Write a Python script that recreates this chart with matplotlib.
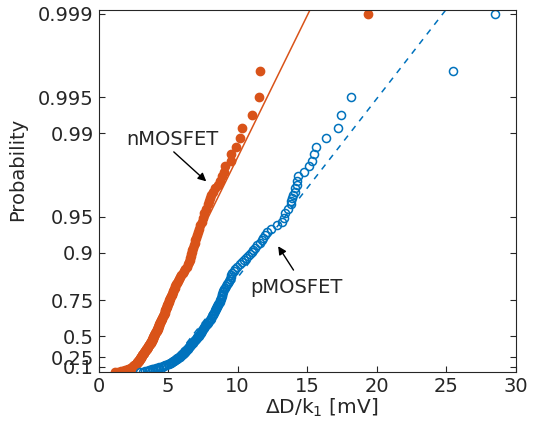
import numpy as np
import matplotlib.pyplot as plt
from matplotlib.ticker import NullLocator

# cumulative probability (plotting positions of the 500-device sample),
# dense in the lower part where the markers merge into a band
prob = [0.999, 0.997, 0.995, 0.993, 0.991, 0.989, 0.987, 0.985, 0.983, 0.981,
        0.979, 0.977, 0.975, 0.973, 0.971, 0.969, 0.967, 0.965, 0.963, 0.961,
        0.957, 0.953, 0.949, 0.945, 0.941, 0.937, 0.933, 0.929, 0.925, 0.921,
        0.917, 0.913, 0.909, 0.905, 0.901, 0.897, 0.893, 0.889, 0.885, 0.881,
        0.875, 0.869, 0.863, 0.857, 0.851, 0.845, 0.839, 0.833, 0.827, 0.821,
        0.815, 0.809, 0.803, 0.797, 0.791, 0.785, 0.779, 0.773, 0.767, 0.761,
        0.755, 0.749, 0.743, 0.737, 0.731, 0.725, 0.719, 0.713, 0.707, 0.701,
        0.697, 0.689, 0.681, 0.673, 0.665, 0.657, 0.649, 0.641, 0.633, 0.625,
        0.617, 0.609, 0.601, 0.593, 0.585, 0.577, 0.569, 0.561, 0.553, 0.545,
        0.537, 0.529, 0.521, 0.513, 0.505, 0.497, 0.489, 0.481, 0.473, 0.465,
        0.457, 0.449, 0.441, 0.433, 0.425, 0.417, 0.409, 0.401, 0.393, 0.385,
        0.377, 0.369, 0.361, 0.353, 0.345, 0.337, 0.329, 0.321, 0.313, 0.305,
        0.297, 0.289, 0.281, 0.273, 0.265, 0.257, 0.249, 0.241, 0.233, 0.225,
        0.217, 0.209, 0.201, 0.193, 0.185, 0.177, 0.169, 0.161, 0.153, 0.145,
        0.137, 0.129, 0.121, 0.113, 0.105, 0.097, 0.089, 0.081, 0.073, 0.065,
        0.057, 0.049, 0.041, 0.033, 0.025, 0.017, 0.009, 0.001]

# nMOSFET  dD/k1 [mV]
nmos_dd = [19.38, 11.6, 11.5, 11.05, 10.3, 10.2, 9.9, 9.55, 9.5, 9.1,
           9.0, 8.85, 8.7, 8.55, 8.4, 8.2, 8.1, 8.0, 7.92, 7.85,
           7.72, 7.6, 7.52, 7.42, 7.32, 7.24, 7.16, 7.07, 7.01, 6.95,
           6.9, 6.84, 6.79, 6.75, 6.7, 6.66, 6.62, 6.58, 6.54, 6.5,
           6.41, 6.33, 6.24, 6.14, 6.05, 5.95, 5.86, 5.78, 5.71, 5.65,
           5.59, 5.53, 5.47, 5.42, 5.38, 5.33, 5.29, 5.25, 5.2, 5.16,
           5.12, 5.08, 5.04, 5.0, 4.97, 4.94, 4.91, 4.89, 4.86, 4.83,
           4.81, 4.78, 4.75, 4.71, 4.67, 4.63, 4.59, 4.55, 4.52, 4.48,
           4.45, 4.41, 4.38, 4.35, 4.32, 4.29, 4.26, 4.24, 4.21, 4.17,
           4.13, 4.09, 4.05, 4.02, 3.99, 3.98, 3.95, 3.92, 3.89, 3.87,
           3.84, 3.81, 3.78, 3.75, 3.72, 3.68, 3.65, 3.62, 3.59, 3.56,
           3.52, 3.48, 3.45, 3.42, 3.39, 3.36, 3.33, 3.3, 3.27, 3.25,
           3.22, 3.19, 3.16, 3.13, 3.11, 3.08, 3.06, 3.03, 3.01, 2.98,
           2.96, 2.94, 2.91, 2.89, 2.86, 2.83, 2.8, 2.77, 2.73, 2.7,
           2.66, 2.62, 2.58, 2.55, 2.51, 2.46, 2.41, 2.36, 2.3, 2.25,
           2.18, 2.1, 2.02, 1.91, 1.78, 1.62, 1.42, 1.15]

# pMOSFET  dD/k1 [mV]
pmos_dd = [28.48, 25.45, 18.12, 17.42, 17.18, 16.32, 15.63, 15.5, 15.31, 15.1,
           14.76, 14.35, 14.28, 14.24, 14.15, 14.1, 14.0, 13.92, 13.86, 13.8,
           13.58, 13.4, 13.3, 13.2, 12.85, 12.4, 12.11, 11.95, 11.85, 11.75,
           11.58, 11.42, 11.27, 11.13, 11.0, 10.86, 10.72, 10.59, 10.46, 10.33,
           10.15, 9.98, 9.84, 9.72, 9.6, 9.54, 9.49, 9.43, 9.35, 9.28,
           9.21, 9.14, 9.07, 9.02, 8.98, 8.93, 8.9, 8.87, 8.84, 8.8,
           8.77, 8.73, 8.7, 8.66, 8.62, 8.58, 8.54, 8.5, 8.46, 8.42,
           8.4, 8.35, 8.29, 8.25, 8.2, 8.15, 8.1, 8.06, 8.0, 7.95,
           7.9, 7.84, 7.79, 7.73, 7.66, 7.61, 7.56, 7.51, 7.46, 7.41,
           7.37, 7.33, 7.28, 7.23, 7.19, 7.14, 7.1, 7.05, 7.0, 6.96,
           6.91, 6.86, 6.82, 6.78, 6.74, 6.68, 6.64, 6.6, 6.56, 6.52,
           6.48, 6.44, 6.41, 6.36, 6.32, 6.28, 6.25, 6.21, 6.16, 6.11,
           6.06, 6.01, 5.97, 5.92, 5.87, 5.83, 5.78, 5.72, 5.67, 5.62,
           5.57, 5.53, 5.48, 5.43, 5.37, 5.31, 5.25, 5.2, 5.13, 5.05,
           4.96, 4.88, 4.79, 4.71, 4.6, 4.5, 4.38, 4.27, 4.15, 4.05,
           3.93, 3.83, 3.72, 3.61, 3.47, 3.34, 3.17, 3.0]

# exponential fits: offset, scale [mV]
nmos_fit = (2.42, 1.83)
pmos_fit = (4.71, 2.90)

prob_ticks = [0.1, 0.25, 0.5, 0.75, 0.9, 0.95, 0.99, 0.995, 0.999]
prob_labels = ['0.1', '0.25', '0.5', '0.75', '0.9', '0.95', '0.99', '0.995', '0.999']
x_ticks = [0, 5, 10, 15, 20, 25, 30]

orange = '#D95319'
blue = '#0072BD'
dark = '#262626'


def fwd(p):
    return -np.log(np.clip(1 - np.asarray(p, dtype=float), 1e-12, None))


def inv(z):
    return 1 - np.exp(-np.asarray(z, dtype=float))


fig = plt.figure(figsize=(5.34, 4.23), dpi=100)
ax = fig.add_axes([0.1845, 0.1206, 0.7818, 0.8558])
ax.set_yscale('function', functions=(fwd, inv))

zz = np.linspace(0, 7.5, 100)
ax.plot(nmos_fit[0] + nmos_fit[1] * zz, inv(zz), '-', color=orange, lw=1.1)
ax.plot(pmos_fit[0] + pmos_fit[1] * zz, inv(zz), '--', color=blue, lw=1.1,
        dashes=(4, 4))
ax.plot(nmos_dd, prob, 'o', color=orange, mec=orange, ms=6)
ax.plot(pmos_dd, prob, 'o', mfc='none', mec=blue, ms=5.8, mew=1.1)

ax.set_xlim(0, 30)
ax.set_ylim(0, 0.99907)
ax.set_xticks(x_ticks)
ax.set_yticks(prob_ticks)
ax.set_yticklabels(prob_labels)
ax.yaxis.set_minor_locator(NullLocator())
ax.xaxis.set_minor_locator(NullLocator())

ax.tick_params(direction='in', length=4, width=0.8, right=True, top=False,
               labelsize=14, color=dark, labelcolor=dark)
for s in ax.spines.values():
    s.set_color(dark)
    s.set_linewidth(0.8)

ax.set_xlabel(r'ΔD/k$_1$ [mV]', fontsize=14.5, color=dark)
ax.xaxis.set_label_coords(0.535, -0.068)
ax.set_ylabel('Probability', fontsize=14, color=dark)
ax.yaxis.set_label_coords(-0.171, 0.56)

ax.annotate('', xy=(7.89, inv(3.64)), xytext=(5.26, inv(4.28)),
            arrowprops=dict(arrowstyle='-|>', color='k', lw=1, mutation_scale=12))
ax.text(5.28, inv(4.48), 'nMOSFET', ha='center', va='center', fontsize=14, color=dark)
ax.annotate('', xy=(12.8, inv(2.47)), xytext=(14.12, inv(1.92)),
            arrowprops=dict(arrowstyle='-|>', color='k', lw=1, mutation_scale=12))
ax.text(14.19, inv(1.63), 'pMOSFET', ha='center', va='center', fontsize=14, color=dark)

fig.savefig('out.png', dpi=100)
